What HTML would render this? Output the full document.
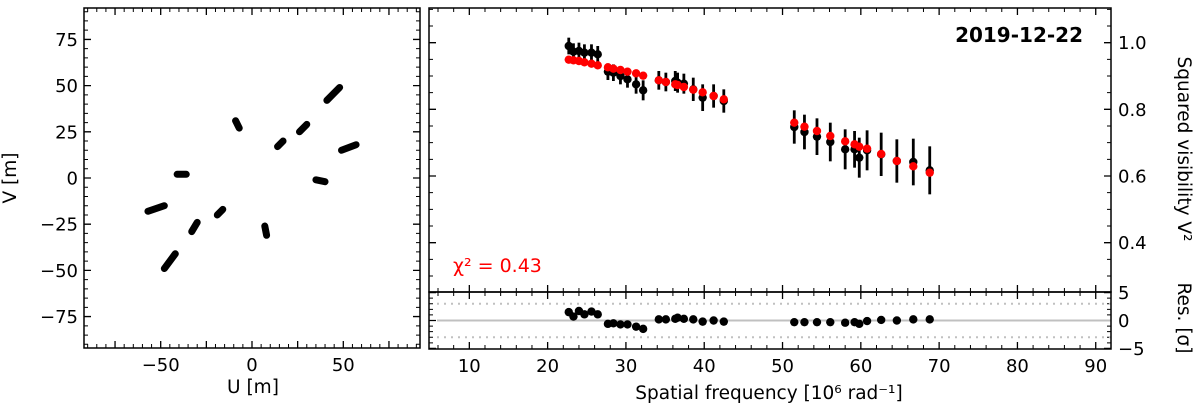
<!DOCTYPE html>
<html><head><meta charset="utf-8">
<style>
html,body{margin:0;padding:0;background:#fff;}
svg{display:block;font-family:"DejaVu Sans","Liberation Sans",sans-serif;}
</style></head>
<body>
<svg id="fig" width="1200" height="409" viewBox="0 0 1200 409" xmlns="http://www.w3.org/2000/svg">
<g id="uv"></g>
<g id="v2"></g>
<g id="res"></g>
<text x="16" y="178" font-size="18.5" text-anchor="middle" transform="rotate(-90 16 178)">V [m]</text>
<text x="253" y="393" font-size="18.5" text-anchor="middle">U [m]</text>
<text x="769" y="399" font-size="18.5" text-anchor="middle">Spatial frequency [10⁶ rad⁻¹]</text>
<text x="1178" y="149" font-size="18.5" text-anchor="middle" transform="rotate(90 1178 149)">Squared visibility V²</text>
<text x="1178" y="318" font-size="18.5" text-anchor="middle" transform="rotate(90 1178 318)">Res. [σ]</text>
<text x="1083" y="42" font-size="20" font-weight="bold" text-anchor="end">2019-12-22</text>
<text x="453" y="272" font-size="19" fill="#ff0000">χ² = 0.43</text>
</svg>
<script>
// UV coverage segments (u1,v1,u2,v2) in meters
const uvStartU = [48, 41, 30, 26, 17, 14, 57, 49, -9, -7, -36, -41, -48, -57, -30, -33, -16, -19, 8, 7, -42, -48, 40, 35];
const uvStartV = [49, 42, 29, 25, 20, 17, 18, 15, 31, 27, 2, 2, -15, -18, -24, -29, -17, -20, -31, -26, -41, -49, -2, -1];
// visibility data
const freq = [22.7,23.3,24.0,24.7,25.6,26.4, 27.7,28.4,29.3,30.2,31.3,32.2, 34.2,35.1,36.3,36.6,37.4,38.6,39.8,41.2,42.5, 51.5,52.8,54.4,56.1,58.0,59.2,59.8,60.8,62.6,64.6,66.7,68.8];
const v2obs = [0.99,0.973,0.975,0.97,0.97,0.965, 0.913,0.91,0.9,0.89,0.875,0.857, 0.887,0.882,0.885,0.88,0.877,0.86,0.835,0.84,0.825, 0.747,0.732,0.718,0.702,0.68,0.68,0.655,0.677,0.665,0.645,0.642,0.617];
const v2err = [0.025,0.025,0.025,0.025,0.025,0.025, 0.025,0.025,0.025,0.025,0.028,0.03, 0.028,0.028,0.03,0.03,0.03,0.035,0.04,0.035,0.035, 0.05,0.052,0.055,0.058,0.06,0.055,0.06,0.06,0.065,0.065,0.07,0.072];
const v2model = [0.949,0.947,0.945,0.941,0.937,0.932, 0.926,0.922,0.918,0.913,0.908,0.901, 0.887,0.882,0.875,0.873,0.867,0.859,0.851,0.84,0.83, 0.76,0.748,0.735,0.72,0.704,0.695,0.688,0.682,0.666,0.645,0.629,0.61];
const resid = [1.5,0.7,1.7,1.1,1.6,1.1, -0.6,-0.5,-0.7,-0.7,-1.1,-1.5, 0.2,0.2,0.3,0.5,0.3,0.2,-0.2,0,-0.2, -0.3,-0.3,-0.3,-0.3,-0.4,-0.3,-0.6,-0.1,0.1,0,0.2,0.2];
const uvTicks = [-50,0,50];
const uvTickV = [-75,-50,-25,0,25,50,75];
const fTicks = [10,20,30,40,50,60,70,80,90];
const v2Ticks = [0.4,0.6,0.8,1.0];
const resTicks = [-5,0,5];

const NS="http://www.w3.org/2000/svg";
const FS=18;
function mk(parent,tag,attrs){const e=document.createElementNS(NS,tag);for(const k in attrs)e.setAttribute(k,attrs[k]);parent.appendChild(e);return e;}
const uvG=document.getElementById('uv'), v2G=document.getElementById('v2'), resG=document.getElementById('res');

// UV panel
const L={x0:84,x1:420,y0:8,y1:348,min:-92,max:92};
const ux=u=>L.x0+(u-L.min)/(L.max-L.min)*(L.x1-L.x0);
const uy=v=>L.y1-(v-L.min)/(L.max-L.min)*(L.y1-L.y0);
for(let m=-90;m<=90;m+=5){
  const maj=m%25===0, len=maj?7:4;
  let x=ux(m),y=uy(m);
  let t=mk(uvG,'path',{d:`M${x},${L.y1}v${-len}M${x},${L.y0}v${len}M${L.x0},${y}h${len}M${L.x1},${y}h${-len}`,stroke:'#000','stroke-width':maj?1.3:1,fill:'none'});
  
  
}
uvTicks.forEach(u=>{const t=mk(uvG,'text',{x:ux(u),y:L.y1+23,'font-size':FS,'text-anchor':'middle'});t.textContent=u<0?'−'+(-u):u;
  
  });
uvTickV.forEach(v=>{const t=mk(uvG,'text',{x:L.x0-6,y:uy(v)+6.5,'font-size':FS,'text-anchor':'end'});t.textContent=v<0?'−'+(-v):v;
  
  });
for(let i=0;i<uvStartU.length;i+=2){
  const s=mk(uvG,'line',{x1:ux(uvStartU[i]),y1:uy(uvStartV[i]),x2:ux(uvStartU[i+1]),y2:uy(uvStartV[i+1]),stroke:'#000','stroke-width':7,'stroke-linecap':'round'});
  
  
}
const lb=mk(uvG,'rect',{x:L.x0,y:L.y0,width:L.x1-L.x0,height:L.y1-L.y0,fill:'none',stroke:'#000','stroke-width':1.5});



// right panels
const R={x0:429,x1:1111,fmin:4.85,fmax:91.95};
const fx=f=>R.x0+(f-R.fmin)/(R.fmax-R.fmin)*(R.x1-R.x0);
const M={y0:8,y1:292,min:0.252,max:1.104};
const my=v=>M.y1-(v-M.min)/(M.max-M.min)*(M.y1-M.y0);
const S={y0:292,y1:349,min:-5.1,max:5.1};
const sy=r=>S.y1-(r-S.min)/(S.max-S.min)*(S.y1-S.y0);

for(let f=6;f<=90;f+=2){
  const maj=f%10===0,len=maj?7:4,x=fx(f);
  const t=mk(v2G,'path',{d:`M${x},${M.y0}v${len}M${x},${M.y1}v${-len}M${x},${S.y0}v${len}M${x},${S.y1}v${-len}`,stroke:'#000','stroke-width':maj?1.3:1});
  
  
}
for(let k=6;k<=22;k++){
  const v=k*0.05,maj=k%4===0,len=maj?7:4,y=my(v);
  const t=mk(v2G,'path',{d:`M${R.x0},${y}h${len}M${R.x1},${y}h${-len}`,stroke:'#000','stroke-width':maj?1.3:1});
  
  
}
for(let r=-5;r<=5;r++){
  const maj=r%5===0,len=maj?7:4,y=sy(r);
  const t=mk(resG,'path',{d:`M${R.x0},${y}h${len}M${R.x1},${y}h${-len}`,stroke:'#000','stroke-width':maj?1.3:1});
  
  
}
fTicks.forEach(f=>{const t=mk(v2G,'text',{x:fx(f),y:S.y1+23,'font-size':FS,'text-anchor':'middle'});t.textContent=f;
  
  });
v2Ticks.forEach(v=>{const t=mk(v2G,'text',{x:R.x1+7,y:my(v)+6.5,'font-size':FS});t.textContent=v.toFixed(1);
  
  });
resTicks.forEach(r=>{const t=mk(resG,'text',{x:R.x1+7,y:sy(r)+6.5,'font-size':FS});t.textContent=r<0?'−'+(-r):r;
  
  });

// residual reference lines
const z=mk(resG,'line',{x1:R.x0+8,x2:R.x1,y1:sy(0),y2:sy(0),stroke:'#c0c0c0','stroke-width':2});


[3,-3].forEach(r=>{const d=mk(resG,'line',{x1:R.x0+8,x2:R.x1,y1:sy(r),y2:sy(r),stroke:'#c0c0c0','stroke-width':2,'stroke-dasharray':'2,5'});
  
  });

freq.forEach((f,i)=>{
  const x=fx(f);
  const e=mk(v2G,'line',{x1:x,x2:x,y1:my(v2obs[i]-v2err[i]),y2:my(v2obs[i]+v2err[i]),stroke:'#000','stroke-width':2.8});
  
  
  const c=mk(v2G,'circle',{cx:x,cy:my(v2obs[i]),r:4.2,fill:'#000'});
  
  
});
freq.forEach((f,i)=>{
  const c=mk(v2G,'circle',{cx:fx(f),cy:my(v2model[i]),r:4.2,fill:'#ff0000'});
  
  
  const r=mk(resG,'circle',{cx:fx(f),cy:sy(resid[i]),r:4.2,fill:'#000'});
  
  
});
const f1=mk(v2G,'rect',{x:R.x0,y:M.y0,width:R.x1-R.x0,height:M.y1-M.y0,fill:'none',stroke:'#000','stroke-width':1.5});


const f2=mk(resG,'rect',{x:R.x0,y:S.y0,width:R.x1-R.x0,height:S.y1-S.y0,fill:'none',stroke:'#000','stroke-width':1.5});


</script>
</body></html>
